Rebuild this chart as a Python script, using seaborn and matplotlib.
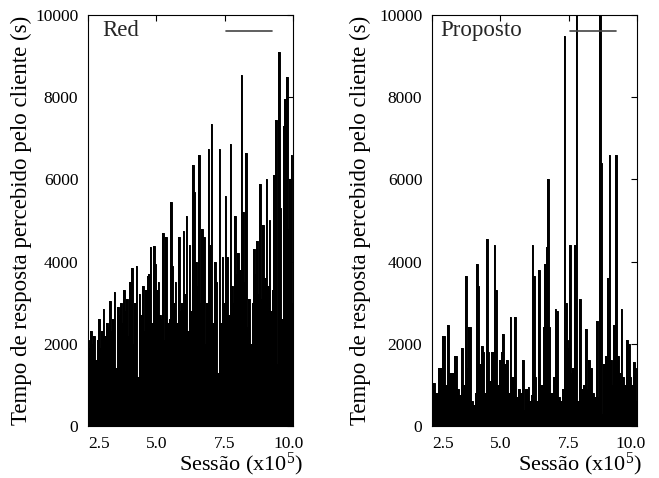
import numpy as np
import pandas as pd
import matplotlib
matplotlib.use("Agg")
import matplotlib.pyplot as plt
import matplotlib.transforms as mtransforms
import seaborn as sns

# ---------------- data ----------------
# Red: response time peaks, evenly spread over sessions 2.5e5 .. 10e5
red_values = [
    2100, 1900, 2300, 2000, 2200, 1600, 2100, 2600, 1900, 2300, 2850, 2200, 2500, 2400, 3050,
    2300, 2600, 3250, 1400, 2900, 2700, 3000, 2500, 3300, 2800, 3100, 2200, 3500, 3850,
    2000, 3000, 3900, 1200, 3200, 2700, 3400, 2300, 3300, 3650, 3700, 4350, 2500, 4380, 3950, 3300, 3500, 2700, 2600,
    4700, 2100, 4600, 2500, 2600, 5450, 3900, 3000, 3500, 2500, 4600, 2800, 3000, 4750, 3200, 5100, 2300, 4400,
    2800, 6350, 5700, 4000, 3400, 6600, 3000, 4800, 4600, 2000, 3000, 6750, 4400, 7350, 2500, 4000,
    3500, 1300, 6750, 2500, 4100, 3000, 5600, 4100, 2700, 6850, 3400, 3000, 5100, 3700, 4200,
    3800, 8550, 5200, 3500, 6650, 2400, 3100, 2000, 3000, 4300, 3700, 4500, 3200, 5900, 3100, 4900, 3600, 6000,
    3400, 5000, 2800, 3300, 6100, 7450, 1500, 9100, 5300, 2600, 7300, 7950, 8500, 4800, 6000, 6600, 3000,
]

# Proposto: sessions (x10^5) and response time peaks
prop_sessions = [
    2.50, 2.54, 2.66, 2.80, 2.93, 2.99, 3.08, 3.17, 3.27, 3.35, 3.45, 3.53, 3.61, 3.68, 3.75, 3.80,
    3.86, 3.96, 4.04, 4.10, 4.15, 4.19, 4.24, 4.32, 4.38, 4.44, 4.52, 4.57, 4.63, 4.71, 4.79, 4.83,
    4.91, 4.99, 5.05, 5.10, 5.17, 5.25, 5.31, 5.37, 5.44, 5.53, 5.60, 5.66, 5.75, 5.82, 5.88, 5.96,
    6.03, 6.09, 6.12, 6.20, 6.22, 6.29, 6.35, 6.41, 6.48, 6.54, 6.60, 6.63, 6.69, 6.74, 6.79, 6.88,
    6.96, 7.02, 7.08, 7.16, 7.22, 7.28, 7.35, 7.40, 7.46, 7.50, 7.54, 7.61, 7.65, 7.73, 7.79, 7.85,
    7.93, 7.99, 8.07, 8.12, 8.19, 8.25, 8.32, 8.40, 8.47, 8.55, 8.60, 8.65, 8.68, 8.74, 8.80, 8.88,
    8.94, 8.99, 9.04, 9.10, 9.17, 9.25, 9.31, 9.37, 9.43, 9.49, 9.56, 9.65, 9.70, 9.76, 9.82, 9.88,
    9.94, 10.00,
]
prop_values = [
    900, 1050, 800, 1400, 2200, 1000, 2450, 1300, 1300, 1700, 900, 750, 1900, 1000, 3650, 1400,
    2400, 600, 500, 800, 3950, 3400, 1500, 1950, 1800, 800, 4550, 1800, 1100, 1800, 4400, 3300,
    1000, 1600, 1800, 2250, 1500, 1600, 800, 2650, 1200, 2650, 700, 900, 800, 1600, 400, 900,
    950, 600, 750, 4400, 3650, 1200, 600, 3800, 1000, 1000, 2400, 3950, 4350, 6000, 2400, 800,
    1200, 2850, 2800, 700, 600, 900, 9500, 3000, 2100, 1900, 4400, 1300, 1400, 4400, 12000, 600,
    3100, 900, 1000, 2350, 900, 1600, 1400, 800, 700, 2550, 700, 12000, 6400, 300, 1500, 1700,
    3600, 6600, 1600, 1000, 2450, 6600, 1700, 1300, 2850, 1200, 1000, 2100, 2000, 1200, 1000, 1550,
    1400, 600,
]

x_ticks = [2.5, 5.0, 7.5, 10.0]
x_ticklabels = ["2.5", "5.0", "7.5", "10.0"]
y_ticks = [0, 2000, 4000, 6000, 8000, 10000]
panel_titles = ["Red", "Proposto"]

red_df = pd.DataFrame({"sessao": np.linspace(2.5, 10.0, len(red_values)), "tempo": red_values})
prop_df = pd.DataFrame({"sessao": prop_sessions, "tempo": prop_values})

# ---------------- style ----------------
sns.set_theme(style="white")
plt.rcParams["font.family"] = ["Liberation Serif", "DejaVu Serif"]
plt.rcParams["mathtext.fontset"] = "custom"
plt.rcParams["mathtext.rm"] = "Liberation Serif"
plt.rcParams["mathtext.it"] = "Liberation Serif:italic"

fig = plt.figure(figsize=(6.59, 4.78), dpi=100)
ax_l = fig.add_axes([88 / 659, 1 - 426 / 478, 205 / 659, 411 / 478])
ax_r = fig.add_axes([432 / 659, 1 - 426 / 478, 205 / 659, 411 / 478])

for ax, df, title, lab_x, ylab_x, tx, last_shift in [
    (ax_l, red_df, panel_titles[0], 1.05, -0.273, 0.068, -4.5),
    (ax_r, prop_df, panel_titles[1], 1.025, -0.30, 0.04, -6.5),
]:
    ax.fill_between(df["sessao"], 0, df["tempo"], step="mid", color="black", lw=0)
    sns.lineplot(data=df, x="sessao", y="tempo", ax=ax, color="black", lw=0.7,
                 drawstyle="steps-mid", estimator=None, sort=False)
    ax.set_xlim(2.5, 10.0)
    ax.set_ylim(0, 10000)
    ax.set_xticks(x_ticks)
    ax.set_xticklabels(x_ticklabels)
    ax.set_yticks(y_ticks)
    ax.tick_params(direction="in", length=4.5, width=0.8, top=True, right=True,
                   labelsize=12.5, colors="black", pad=7)
    xtl = ax.get_xticklabels()
    xtl[0].set_horizontalalignment("left")
    xtl[-1].set_transform(xtl[-1].get_transform() +
                          mtransforms.ScaledTranslation(last_shift / 100, 0, fig.dpi_scale_trans))
    for sp in ax.spines.values():
        sp.set_color("black")
        sp.set_linewidth(0.8)
    ax.set_ylabel("Tempo de resposta percebido pelo cliente (s)", fontsize=16.5, color="black")
    ax.set_xlabel("Sessão (x10$^{5}$)", fontsize=16, color="black", ha="right")
    ax.xaxis.set_label_coords(lab_x, -0.06)
    ax.yaxis.set_label_coords(ylab_x, 0.5)
    # key (gnuplot style: title at left, line sample at right)
    ax.text(tx, 0.963, title, transform=ax.transAxes, fontsize=16.5, va="center", ha="left")
    ax.plot([0.672, 0.898], [0.961, 0.961], transform=ax.transAxes, color="#444444", lw=1.2)

fig.savefig("out.png", dpi=100)
